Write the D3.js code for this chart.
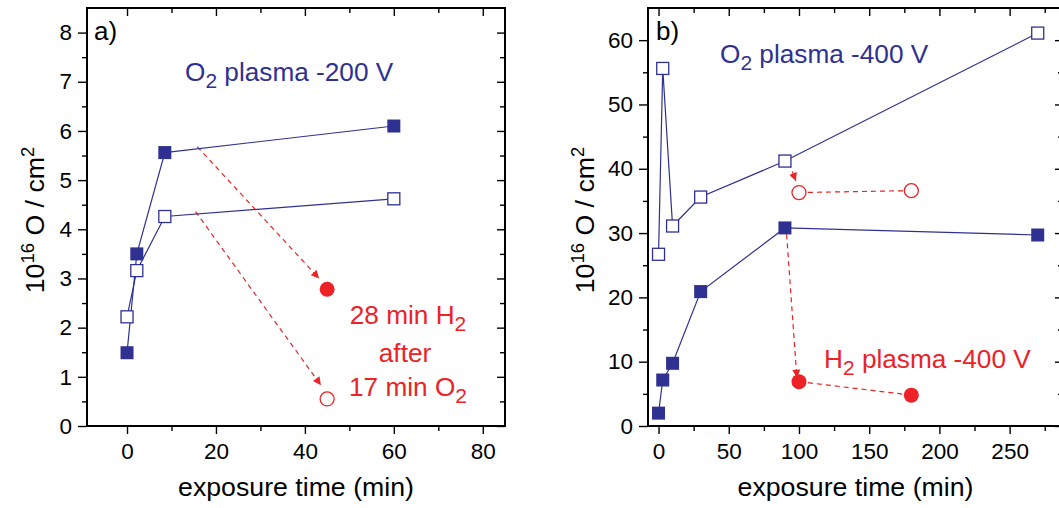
<!DOCTYPE html>
<html>
<head>
<meta charset="utf-8">
<script src="https://cdn.jsdelivr.net/npm/d3@7"></script>
<style>
  body { margin: 0; background: #fff; }
  svg { display: block; font-family: "Liberation Sans", Arial, sans-serif; }
</style>
</head>
<body>
<svg id="chart" width="1059" height="508"></svg>
<script>
// panel a) O2 plasma -200 V
const timeA = [0, 2.2, 8.5, 60];
const filledA = [1.49, 3.5, 5.56, 6.1];
const openA = [2.22, 3.16, 4.26, 4.62];
const h2TimeA = [45];
const h2FilledA = [2.78];
const h2OpenA = [0.55];
const arrowsA = [[15.8, 5.68, 43.2, 3.0], [15.4, 4.36, 43.6, 0.83]];

// panel b) O2 plasma -400 V, then H2 plasma -400 V
const timeB = [0, 3, 10, 30, 90, 270];
const filledB = [2.0, 7.15, 9.75, 20.9, 30.8, 29.7];
const openB = [26.7, 55.6, 31.1, 35.6, 41.2, 61.1];
const h2TimeB = [100, 180];
const h2FilledB = [6.9, 4.8];
const h2OpenB = [36.3, 36.6];
const arrowsB = [[93, 40.9, 97.8, 38.1], [91.2, 29.8, 98.5, 7.5]];

const xTicksA = [0, 20, 40, 60, 80];
const yTicksA = [0, 1, 2, 3, 4, 5, 6, 7, 8];
const xTicksB = [0, 50, 100, 150, 200, 250];
const yTicksB = [0, 10, 20, 30, 40, 50, 60];

const blue = "#2e3192", red = "#ec2227";
const svg = d3.select("#chart");

svg.append("defs").append("marker")
  .attr("id", "head").attr("viewBox", "0 0 10 10")
  .attr("refX", 10).attr("refY", 5)
  .attr("markerWidth", 10).attr("markerHeight", 8)
  .attr("markerUnits", "userSpaceOnUse")
  .attr("orient", "auto")
  .append("path").attr("d", "M0,0L10,5L0,10z").attr("fill", red);

function panel(p) {
  const g = svg.append("g");
  const x = d3.scaleLinear(p.xDom, p.xRange);
  const y = d3.scaleLinear(p.yDom, [426, 8]);
  const [x0, x1] = p.xRange;

  function axis(gen, tr, vals, size, labels) {
    const a = g.append("g").attr("transform", tr)
      .call(gen.tickValues(vals).tickSize(size).tickSizeOuter(0)
        .tickPadding(labels ? p.pad : 0).tickFormat(labels ? d3.format("d") : ""));
    a.select(".domain").remove();
    a.selectAll("line").attr("stroke", "#000").attr("stroke-width", 1.4);
    a.selectAll("text").attr("font-size", 22.5).attr("fill", "#000")
      .attr("font-family", "Liberation Sans, Arial, sans-serif");
    return a;
  }
  // bottom / left (outward), top / right (inward)
  axis(d3.axisBottom(x), "translate(0,426)", p.xTicks, 8, true)
    .selectAll("text").attr("dy", null).attr("y", 32.5);
  axis(d3.axisBottom(x), "translate(0,426)", p.xMinor, 5, false);
  axis(d3.axisLeft(y), `translate(${x0},0)`, p.yTicks, 9, true)
    .selectAll("text").attr("x", -15);
  axis(d3.axisLeft(y), `translate(${x0},0)`, p.yMinor, 5, false);
  axis(d3.axisTop(x), "translate(0,8)", p.xTicks, -8, false);
  axis(d3.axisTop(x), "translate(0,8)", p.xMinor, -5, false);
  axis(d3.axisRight(y), `translate(${x1},0)`, p.yTicks, -8, false);
  axis(d3.axisRight(y), `translate(${x1},0)`, p.yMinor, -5, false);

  g.append("rect").attr("x", x0).attr("y", 8).attr("width", x1 - x0).attr("height", 418)
    .attr("fill", "none").attr("stroke", "#000").attr("stroke-width", 2);

  const line = d3.line().x(d => x(d[0])).y(d => y(d[1]));
  const pairs = (xs, ys) => xs.map((t, i) => [t, ys[i]]);

  // red dashed arrows
  p.arrows.forEach(a => {
    g.append("line").attr("x1", x(a[0])).attr("y1", y(a[1]))
      .attr("x2", x(a[2])).attr("y2", y(a[3]))
      .attr("stroke", red).attr("stroke-width", 1.2).attr("stroke-dasharray", "5,4")
      .attr("marker-end", "url(#head)");
  });
  if (p.h2Line) {
    [p.h2Filled, p.h2Open].forEach(v => {
      g.append("path").attr("d", line(pairs(p.h2Time, v))).attr("fill", "none")
        .attr("stroke", red).attr("stroke-width", 1.2).attr("stroke-dasharray", "5,4");
    });
  }
  [p.open, p.filled].forEach(v => {
    g.append("path").attr("d", line(pairs(p.time, v))).attr("fill", "none")
      .attr("stroke", blue).attr("stroke-width", 1.2);
  });

  g.selectAll(".fs").data(pairs(p.time, p.filled)).join("rect")
    .attr("x", d => x(d[0]) - 6.5).attr("y", d => y(d[1]) - 6.5)
    .attr("width", 13).attr("height", 13).attr("fill", blue);
  g.selectAll(".os").data(pairs(p.time, p.open)).join("rect")
    .attr("x", d => x(d[0]) - 6).attr("y", d => y(d[1]) - 6)
    .attr("width", 12).attr("height", 12).attr("fill", "#fff")
    .attr("stroke", blue).attr("stroke-width", 1.3);
  g.selectAll(".fc").data(pairs(p.h2Time, p.h2Filled)).join("circle")
    .attr("cx", d => x(d[0])).attr("cy", d => y(d[1])).attr("r", 7.5).attr("fill", red);
  g.selectAll(".oc").data(pairs(p.h2Time, p.h2Open)).join("circle")
    .attr("cx", d => x(d[0])).attr("cy", d => y(d[1])).attr("r", 7)
    .attr("fill", "#fff").attr("stroke", red).attr("stroke-width", 1.3);

  // axis titles
  g.append("text").attr("x", (x0 + x1) / 2).attr("y", 496).attr("text-anchor", "middle")
    .attr("font-size", 26.7).text("exposure time (min)");
  const yl = g.append("text").attr("transform", `translate(${p.yTitleX},220) rotate(-90)`)
    .attr("text-anchor", "middle").attr("font-size", 26.7);
  yl.append("tspan").text("10");
  yl.append("tspan").attr("font-size", 18.5).attr("dy", -10).text("16");
  yl.append("tspan").attr("dy", 10).text(" O / cm");
  yl.append("tspan").attr("font-size", 18.5).attr("dy", -10).text("2");

  g.append("text").attr("x", p.tag[0]).attr("y", p.tag[1]).attr("font-size", 26).text(p.tagText);
  return { g, x, y };
}

function sub(g, xp, yp, color, parts, anchor) {
  const t = g.append("text").attr("x", xp).attr("y", yp).attr("font-size", 26.2)
    .attr("fill", color).attr("text-anchor", anchor || "start");
  let low = false;
  parts.forEach(([s, isSub]) => {
    if (isSub) { t.append("tspan").attr("font-size", 21).attr("dy", 7).text(s); low = true; }
    else { t.append("tspan").attr("dy", low ? -7 : 0).text(s); low = false; }
  });
}

const A = panel({
  xDom: [-9, 85], xRange: [87, 505], yDom: [0, 8.5],
  xTicks: xTicksA, xMinor: [10, 30, 50, 70], yTicks: yTicksA,
  yMinor: d3.range(0.5, 8.5, 1), pad: 6,
  time: timeA, filled: filledA, open: openA,
  h2Time: h2TimeA, h2Filled: h2FilledA, h2Open: h2OpenA, h2Line: false,
  arrows: arrowsA, yTitleX: 44, tag: [94, 40], tagText: "a)"
});
const B = panel({
  xDom: [-7.5, 288], xRange: [648, 1063], yDom: [0, 65],
  xTicks: xTicksB, xMinor: [25, 75, 125, 175, 225, 275], yTicks: yTicksB,
  yMinor: d3.range(5, 65, 10), pad: 6,
  time: timeB, filled: filledB, open: openB,
  h2Time: h2TimeB, h2Filled: h2FilledB, h2Open: h2OpenB, h2Line: true,
  arrows: arrowsB, yTitleX: 594, tag: [656, 40], tagText: "b)"
});

sub(A.g, 408, 324, red, [["28 min H"], ["2", true]], "middle");
sub(A.g, 405, 362, red, [["after"]], "middle");
sub(A.g, 408, 396, red, [["17 min O"], ["2", true]], "middle");
sub(A.g, 185, 81, blue, [["O"], ["2", true], [" plasma -200 V"]]);
sub(B.g, 720, 63, blue, [["O"], ["2", true], [" plasma -400 V"]]);
sub(B.g, 824, 368, red, [["H"], ["2", true], [" plasma -400 V"]]);
</script>
</body>
</html>
